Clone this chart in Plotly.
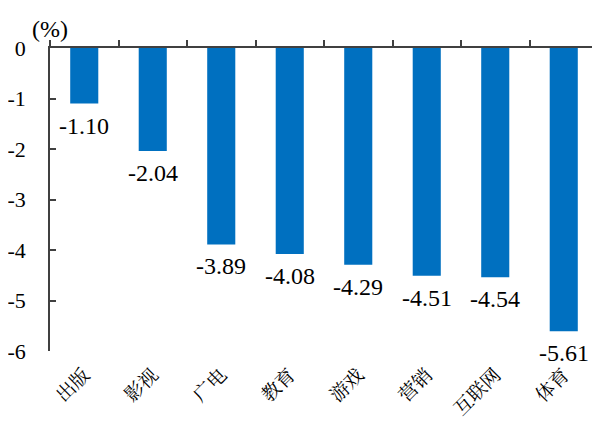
import plotly.graph_objects as go

categories = ["出版", "影视", "广电", "教育", "游戏", "营销", "互联网", "体育"]
values = [-1.10, -2.04, -3.89, -4.08, -4.29, -4.51, -4.54, -5.61]
labels = [f"{v:.2f}" for v in values]
y_ticks = [0, -1, -2, -3, -4, -5, -6]
y_tick_text = [str(t) for t in y_ticks]

serif = "Liberation Serif"
cjk = "Noto Serif CJK SC"
axis_color = "#404040"

fig = go.Figure()
fig.add_trace(go.Bar(
    x=categories, y=values,
    marker=dict(color="#0070C0", line=dict(width=0)),
    showlegend=False,
))
# invisible trace to carry the top (zero) axis with boundary ticks
fig.add_trace(go.Scatter(
    x=categories, y=values, xaxis="x2", mode="markers",
    marker=dict(opacity=0), hoverinfo="skip", showlegend=False,
))

# value labels under each bar end
annotations = [
    dict(x=c, y=v, text=t, xref="x", yref="y", xanchor="center", yanchor="top",
         yshift=-7, showarrow=False, font=dict(family=serif, size=24, color="black"))
    for c, v, t in zip(categories, values, labels)
]
annotations.append(dict(
    text="(%)", xref="paper", yref="paper", x=0, y=1,
    xanchor="center", yanchor="bottom", yshift=4, showarrow=False,
    font=dict(family=serif, size=24, color="black"),
))

# page body adds an 8px offset, so the figure is a bit smaller
fig.update_layout(
    width=592, height=419,
    margin=dict(l=42, r=2, t=40, b=76),
    font=dict(family=serif, color="black"),
    plot_bgcolor="white", paper_bgcolor="white",
    bargap=0.59,
    xaxis=dict(
        type="category", categoryorder="array", categoryarray=categories,
        range=[-0.5, 7.5], side="bottom", showline=False, showgrid=False,
        ticks="", tickangle=-45, ticklabelstandoff=8, automargin=False,
        tickfont=dict(family=cjk, size=19, color="black"),
    ),
    xaxis2=dict(
        type="category", categoryorder="array", categoryarray=categories,
        range=[-0.5, 7.5], overlaying="x", side="top", anchor="y",
        showline=True, linecolor=axis_color, linewidth=1.5,
        ticks="outside", tickson="boundaries", ticklen=6, tickwidth=1.5,
        tickcolor=axis_color, showticklabels=False, showgrid=False,
        automargin=False,
    ),
    yaxis=dict(
        range=[-6, 0], tickmode="array", tickvals=y_ticks, ticktext=y_tick_text,
        showgrid=False, zeroline=False, automargin=False,
        showline=True, linecolor=axis_color, linewidth=1.5,
        ticks="inside", ticklen=6, tickwidth=1.5, tickcolor=axis_color,
        ticklabelstandoff=18,
        tickfont=dict(family=serif, size=22, color="black"),
    ),
    annotations=annotations,
)

fig.write_html("out.html")
